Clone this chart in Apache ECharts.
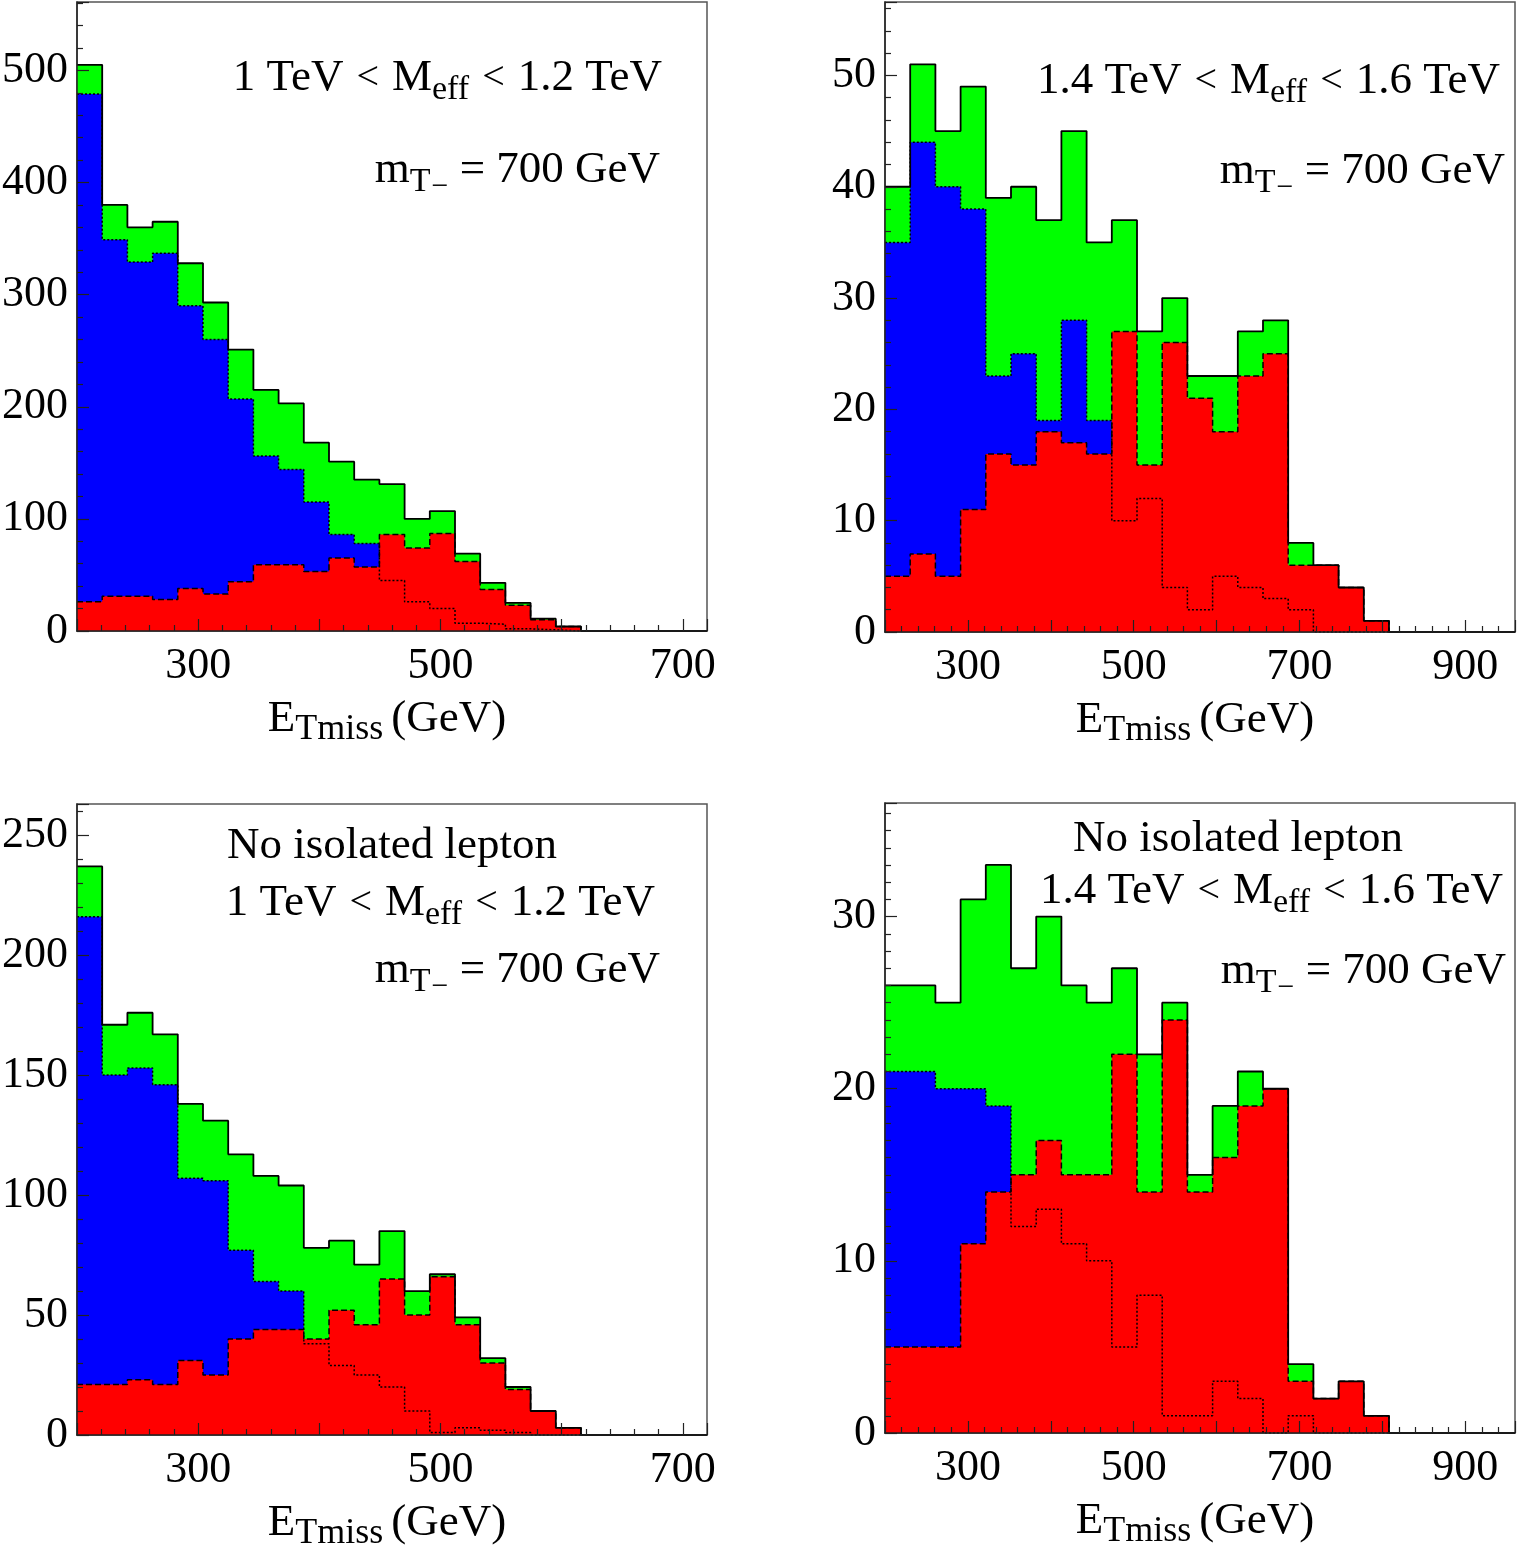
<!DOCTYPE html>
<html>
<head>
<meta charset="utf-8">
<title>ETmiss distributions</title>
<script src="https://cdn.jsdelivr.net/npm/echarts@6/dist/echarts.min.js"></script>
<style>
  html, body { margin: 0; padding: 0; background: #fff; }
  #chart { width: 1518px; height: 1545px; }
</style>
</head>
<body>
<div id="chart"></div>
<script>
  // ETmiss histograms, 25 bins per panel
  const nBins = 25;
  const etRangeLow = [200, 720];   // 1 TeV < Meff < 1.2 TeV panels
  const etRangeHigh = [200, 960];  // 1.4 TeV < Meff < 1.6 TeV panels
  const etLabelsLow = [300, 500, 700];
  const etLabelsHigh = [300, 500, 700, 900];

  // red = signal (dashed outline), blue = background (dotted outline), green = sum
  const sigLowMeff = [26, 31, 31, 28, 38, 33, 44, 59, 59, 53, 65, 57, 86, 74, 87, 62, 37, 23, 10, 4, 0, 0, 0, 0, 0];
  const bkgLowMeff = [479, 349, 329, 337, 290, 260, 207, 156, 144, 115, 86, 78, 45, 26, 20, 7, 6, 2, 1, 0, 0, 0, 0, 0, 0];
  const sigHighMeff = [5, 7, 5, 11, 16, 15, 18, 17, 16, 27, 15, 26, 21, 18, 23, 25, 6, 6, 4, 1, 0, 0, 0, 0, 0];
  const bkgHighMeff = [35, 44, 40, 38, 23, 25, 19, 28, 19, 10, 12, 4, 2, 5, 4, 3, 2, 0, 0, 0, 0, 0, 0, 0, 0];
  const sigLowMeffNoLep = [21, 21, 23, 21, 31, 25, 40, 44, 44, 40, 52, 46, 65, 50, 66, 46, 30, 19, 10, 3, 0, 0, 0, 0, 0];
  const bkgLowMeffNoLep = [216, 150, 153, 146, 107, 106, 77, 64, 60, 38, 29, 25, 20, 10, 1, 3, 2, 1, 0, 0, 0, 0, 0, 0, 0];
  const sigHighMeffNoLep = [5, 5, 5, 11, 14, 15, 17, 15, 15, 22, 14, 24, 14, 16, 19, 20, 3, 2, 3, 1, 0, 0, 0, 0, 0];
  const bkgHighMeffNoLep = [21, 21, 20, 20, 19, 12, 13, 11, 10, 5, 8, 1, 1, 3, 2, 0, 1, 0, 0, 0, 0, 0, 0, 0, 0];

  const yMaxes = [561, 56.6, 263, 36.6];
  const yIntervals = [100, 10, 50, 10];
  const yMinorSplits = [5, 5, 5, 10];

  const fontFamily = '"Liberation Serif", "DejaVu Serif", serif';

  const panels = [
    { sig: sigLowMeff, bkg: bkgLowMeff, range: etRangeLow, labels: etLabelsLow,
      grid: { left: 77, top: 2, width: 630, height: 629 } },
    { sig: sigHighMeff, bkg: bkgHighMeff, range: etRangeHigh, labels: etLabelsHigh,
      grid: { left: 885, top: 2, width: 630, height: 630 } },
    { sig: sigLowMeffNoLep, bkg: bkgLowMeffNoLep, range: etRangeLow, labels: etLabelsLow,
      grid: { left: 77, top: 804, width: 630, height: 631 } },
    { sig: sigHighMeffNoLep, bkg: bkgHighMeffNoLep, range: etRangeHigh, labels: etLabelsHigh,
      grid: { left: 885, top: 803, width: 630, height: 630 } }
  ];

  function richStyles (colorKey) {
    const st = (size, pad) => {
      const s = { fontSize: size, lineHeight: 60, fontFamily: fontFamily };
      s[colorKey] = '#000';
      if (pad) s.padding = pad;
      return s;
    };
    return {
      n: st(45),
      s: st(34, [24, 0, 0, 0]),
      ax: st(36, [22, 8, 0, 0]),
      ss: st(30, [34, 0, 0, 1]),
      lt: st(40, [0, 13, 0, 13])
    };
  }

  function binEdges (range) {
    const w = (range[1] - range[0]) / nBins;
    return Array.from({ length: nBins + 1 }, (_, i) => range[0] + i * w);
  }

  // histogram as step line: left edge of each bin + closing right edge
  function stepData (edges, vals) {
    const pts = vals.map((v, i) => [edges[i], v]);
    pts.push([edges[vals.length], vals[vals.length - 1]]);
    return pts;
  }

  const grids = [];
  const xAxes = [];
  const yAxes = [];
  const series = [];
  const axisColor = '#222';

  panels.forEach((p, i) => {
    grids.push(Object.assign({ show: true, borderColor: '#555', borderWidth: 1.5,
      backgroundColor: '#fff', outerBoundsMode: 'none' }, p.grid));

    xAxes.push({
      gridIndex: i, type: 'value', min: p.range[0], max: p.range[1], interval: 100, z: 10,
      axisLine: { show: true, lineStyle: { color: axisColor, width: 1.5 } },
      axisTick: { show: true, inside: true, length: 12, lineStyle: { color: axisColor, width: 1.2 } },
      minorTick: { show: true, splitNumber: 5, length: 6, lineStyle: { color: axisColor, width: 1.2 } },
      splitLine: { show: false },
      axisLabel: {
        margin: 13, fontSize: 44, fontFamily: fontFamily, color: '#000',
        formatter: v => (p.labels.indexOf(v) >= 0 ? String(v) : '')
      },
      name: '{n|E}{ax|Tmiss}{n|(GeV)}',
      nameLocation: 'middle', nameGap: 58,
      nameTextStyle: { rich: richStyles('color'), padding: [0, 10, 0, 0] }
    });

    yAxes.push({
      gridIndex: i, type: 'value', min: 0, max: yMaxes[i], interval: yIntervals[i], z: 10,
      axisLine: { show: true, lineStyle: { color: axisColor, width: 1.5 } },
      axisTick: { show: true, inside: true, length: 12, lineStyle: { color: axisColor, width: 1.2 } },
      minorTick: { show: true, splitNumber: yMinorSplits[i], length: 6, lineStyle: { color: axisColor, width: 1.2 } },
      splitLine: { show: false },
      axisLabel: { showMaxLabel: false, margin: 9, padding: [10, 0, 0, 0],
        fontSize: 44, fontFamily: fontFamily, color: '#000' }
    });

    const edges = binEdges(p.range);
    const total = p.sig.map((v, k) => v + p.bkg[k]);
    const base = { type: 'line', xAxisIndex: i, yAxisIndex: i, step: 'end', symbol: 'none',
      showSymbol: false, silent: true, animation: false };

    // fills first, outlines on top (as in the original plot)
    series.push(Object.assign({}, base, { data: stepData(edges, total), z: 2,
      lineStyle: { width: 0 }, areaStyle: { color: '#00ff00', opacity: 1 } }));
    series.push(Object.assign({}, base, { data: stepData(edges, p.bkg), z: 3,
      lineStyle: { width: 0 }, areaStyle: { color: '#0000ff', opacity: 1 } }));
    series.push(Object.assign({}, base, { data: stepData(edges, p.sig), z: 4,
      lineStyle: { width: 0 }, areaStyle: { color: '#ff0000', opacity: 1 } }));
    series.push(Object.assign({}, base, { data: stepData(edges, total), z: 5,
      lineStyle: { color: '#000', width: 1.8, type: 'solid' } }));
    series.push(Object.assign({}, base, { data: stepData(edges, p.bkg), z: 6,
      lineStyle: { color: '#000', width: 1.5, type: [2, 2] } }));
    series.push(Object.assign({}, base, { data: stepData(edges, p.sig), z: 7,
      lineStyle: { color: '#000', width: 1.5, type: [6, 3] } }));
  });

  const graphicRich = richStyles('fill');
  const meffLow = '{n|1 TeV}{lt|<}{n|M}{s|eff}{lt|<}{n|1.2 TeV}';
  const meffHigh = '{n|1.4 TeV}{lt|<}{n|M}{s|eff}{lt|<}{n|1.6 TeV}';
  const massText = '{n|m}{s|T}{ss|\u2212}{n| = 700 GeV}';
  const noIso = '{n|No isolated lepton}';

  function note (x, y, align, text) {
    return { type: 'text', x: x, y: y, silent: true, z: 20,
      style: { text: text, rich: graphicRich, align: align, verticalAlign: 'middle' } };
  }

  const chart = echarts.init(document.getElementById('chart'), null, { renderer: 'canvas' });
  chart.setOption({
    backgroundColor: '#fff',
    animation: false,
    grid: grids,
    xAxis: xAxes,
    yAxis: yAxes,
    series: series,
    graphic: [
      note(662, 78, 'right', meffLow),
      note(660, 170, 'right', massText),
      note(1500, 81, 'right', meffHigh),
      note(1505, 171, 'right', massText),
      note(392, 846, 'center', noIso),
      note(655, 903, 'right', meffLow),
      note(660, 970, 'right', massText),
      note(1238, 839, 'center', noIso),
      note(1503, 891, 'right', meffHigh),
      note(1506, 971, 'right', massText)
    ]
  });

  window.addEventListener('resize', () => chart.resize());
</script>
</body>
</html>
